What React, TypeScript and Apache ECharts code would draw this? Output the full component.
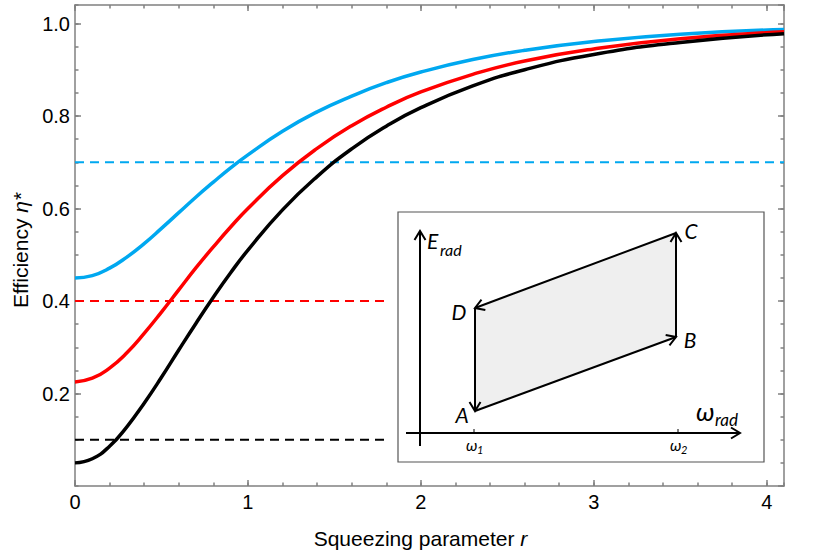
import React, { useEffect, useRef } from "react";
import * as echarts from "echarts";

// Squeezing parameter r (x) and efficiency eta* (y)
const rValues = [0, 0.1, 0.2, 0.3, 0.4, 0.5, 0.6, 0.7, 0.8, 0.9, 1.0, 1.2, 1.4, 1.6, 1.8, 2.0, 2.3, 2.6, 3.0, 3.5, 4.1];
const blueEta = [0.45, 0.455, 0.471, 0.495, 0.524, 0.557, 0.591, 0.625, 0.657, 0.688, 0.716, 0.767, 0.809, 0.843, 0.872, 0.895, 0.922, 0.942, 0.961, 0.977, 0.987];
const redEta = [0.225, 0.233, 0.255, 0.288, 0.33, 0.376, 0.424, 0.472, 0.517, 0.56, 0.6, 0.671, 0.73, 0.779, 0.819, 0.852, 0.89, 0.919, 0.945, 0.967, 0.982];
const blackEta = [0.05, 0.059, 0.086, 0.128, 0.179, 0.235, 0.294, 0.352, 0.408, 0.461, 0.51, 0.597, 0.669, 0.729, 0.778, 0.818, 0.865, 0.9, 0.933, 0.959, 0.978];

// dashed reference levels: [level, r end]
const blueLevel = [0.7, 4.1];
const redLevel = [0.4, 1.8];
const blackLevel = [0.1, 1.8];

const xTicks = [0, 4.1];
const yTicks = [0, 1.04];

const BLUE = "#00A8F0";
const RED = "#FF0000";
const BLACK = "#000000";
const AXIS = "#808080";
const FONT = "'Liberation Sans', Arial, sans-serif";
const IFONT = "Lato, 'Open Sans', sans-serif";

function pairs(xs: number[], ys: number[]) {
  return xs.map((x, i) => [x, ys[i]]);
}

function arrow(x1: number, y1: number, x2: number, y2: number) {
  const dx = x2 - x1;
  const dy = y2 - y1;
  const L = Math.hypot(dx, dy);
  const ux = dx / L;
  const uy = dy / L;
  const h = 9;
  const w = 5.5;
  const p1 = [x2 - ux * h - uy * w, y2 - uy * h + ux * w];
  const p2 = [x2 - ux * h + uy * w, y2 - uy * h - ux * w];
  return [
    { type: "line", z: 20, shape: { x1, y1, x2, y2 }, style: { stroke: "#000", lineWidth: 2 } },
    { type: "polyline", z: 20, shape: { points: [p1, [x2, y2], p2] }, style: { stroke: "#000", lineWidth: 2, fill: null } },
  ];
}

function txt(text: string, x: number, y: number, size: number, align = "center", italic = true) {
  return {
    type: "text",
    z: 21,
    x,
    y,
    style: {
      text,
      fill: "#000",
      fontSize: size,
      fontFamily: IFONT,
      fontStyle: italic ? "italic" : "normal",
      align,
      verticalAlign: "middle",
      textAlign: align,
      textVerticalAlign: "middle",
    },
  };
}

export default function App() {
  const ref = useRef<HTMLDivElement>(null);
  useEffect(() => {
    if (!ref.current) return;
    const chart = echarts.init(ref.current, null, { renderer: "svg" });

    const tickStyle = { color: AXIS, width: 1.5 };
    const lineOn = { show: true, onZero: false, lineStyle: { color: AXIS, width: 1.5 } };
    const lineOff = { show: false, onZero: false };

    const mkX = (position: string, interval: number, len: number, showLine: boolean, labels: boolean) => ({
      type: "value",
      position,
      min: xTicks[0],
      max: xTicks[1],
      interval,
      axisLine: showLine ? lineOn : lineOff,
      axisTick: { show: true, inside: true, length: len, lineStyle: tickStyle },
      axisLabel: labels
        ? { show: true, showMaxLabel: false, margin: 6, fontSize: 20, color: "#000", fontFamily: FONT }
        : { show: false },
      splitLine: { show: false },
    });
    const mkY = (position: string, interval: number, len: number, showLine: boolean, labels: boolean) => ({
      type: "value",
      position,
      min: yTicks[0],
      max: yTicks[1],
      interval,
      axisLine: showLine ? lineOn : lineOff,
      axisTick: { show: true, inside: true, length: len, lineStyle: tickStyle },
      axisLabel: labels
        ? {
            show: true,
            showMinLabel: false,
            showMaxLabel: false,
            margin: 5,
            fontSize: 20,
            color: "#000",
            fontFamily: FONT,
            formatter: (v: number) => v.toFixed(1),
          }
        : { show: false },
      splitLine: { show: false },
    });

    const xMain: any = mkX("bottom", 1, 6, true, true);
    xMain.name = "Squeezing parameter {i|r}";
    xMain.nameLocation = "middle";
    xMain.nameGap = 42;
    xMain.nameTextStyle = {
      fontSize: 21,
      color: "#000",
      fontFamily: FONT,
      padding: [0, 18, 0, 0],
      rich: { i: { fontSize: 21, fontStyle: "italic", fontFamily: FONT, color: "#000" } },
    };
    const yMain: any = mkY("left", 0.2, 6, true, true);
    yMain.name = "Efficiency {i|η*}";
    yMain.nameLocation = "middle";
    yMain.nameGap = 40;
    yMain.nameTextStyle = {
      fontSize: 21,
      color: "#000",
      fontFamily: FONT,
      padding: [0, 10, 0, 0],
      rich: { i: { fontSize: 21, fontStyle: "italic", fontFamily: FONT, color: "#000" } },
    };

    const A = [475, 411];
    const B = [676, 337];
    const C = [676, 233];
    const D = [475, 308];

    const graphic: any[] = [
      { type: "rect", z: 15, shape: { x: 398, y: 212, width: 366, height: 250 }, style: { fill: "#fff", stroke: "#555", lineWidth: 1.2 } },
      { type: "polygon", z: 16, shape: { points: [A, B, C, D] }, style: { fill: "#EFEFEF", stroke: null } },
      ...arrow(420, 446, 420, 231),
      ...arrow(406, 433, 740, 433),
      { type: "line", z: 20, shape: { x1: 474, y1: 429, x2: 474, y2: 433 }, style: { stroke: "#000", lineWidth: 1 } },
      { type: "line", z: 20, shape: { x1: 678, y1: 429, x2: 678, y2: 433 }, style: { stroke: "#000", lineWidth: 1 } },
      ...arrow(A[0], A[1], B[0], B[1]),
      ...arrow(B[0], B[1], C[0], C[1]),
      ...arrow(C[0], C[1], D[0], D[1]),
      ...arrow(D[0], D[1], A[0], A[1]),
      txt("A", 462, 414, 21),
      txt("B", 690, 339, 21),
      txt("C", 691, 230, 21),
      txt("D", 459, 311, 21),
      txt("E", 427, 240, 21, "left"),
      txt("rad", 440, 249, 16, "left"),
      txt("ω", 696, 411, 26, "left"),
      txt("rad", 715, 419, 17, "left"),
      txt("ω", 466, 444, 16, "left"),
      txt("1", 477, 449, 11, "left"),
      txt("ω", 670, 444, 16, "left"),
      txt("2", 681, 449, 11, "left"),
    ];

    const curve = (data: number[][], color: string) => ({
      type: "line",
      xAxisIndex: 0,
      yAxisIndex: 0,
      data,
      smooth: true,
      showSymbol: false,
      symbol: "none",
      lineStyle: { color, width: 3.5 },
      z: 3,
    });
    const dashed = (lvl: number[], color: string) => ({
      type: "line",
      xAxisIndex: 0,
      yAxisIndex: 0,
      data: [
        [0, lvl[0]],
        [lvl[1], lvl[0]],
      ],
      showSymbol: false,
      symbol: "none",
      lineStyle: { color, width: 2, type: [9, 6] },
      z: 2,
    });

    chart.setOption({
      animation: false,
      grid: { left: 75, right: 46, top: 5, bottom: 65 },
      xAxis: [xMain, mkX("bottom", 0.2, 3.5, false, false), mkX("top", 1, 6, true, false), mkX("top", 0.2, 3.5, false, false)],
      yAxis: [yMain, mkY("left", 0.05, 3.5, false, false), mkY("right", 0.2, 6, true, false), mkY("right", 0.05, 3.5, false, false)],
      series: [
        dashed(blueLevel, BLUE),
        dashed(redLevel, RED),
        dashed(blackLevel, BLACK),
        curve(pairs(rValues, blueEta), BLUE),
        curve(pairs(rValues, redEta), RED),
        curve(pairs(rValues, blackEta), BLACK),
      ],
      graphic,
    });
    return () => chart.dispose();
  }, []);
  return <div ref={ref} style={{ position: "absolute", left: 0, top: 0, width: 830, height: 554 }} />;
}
